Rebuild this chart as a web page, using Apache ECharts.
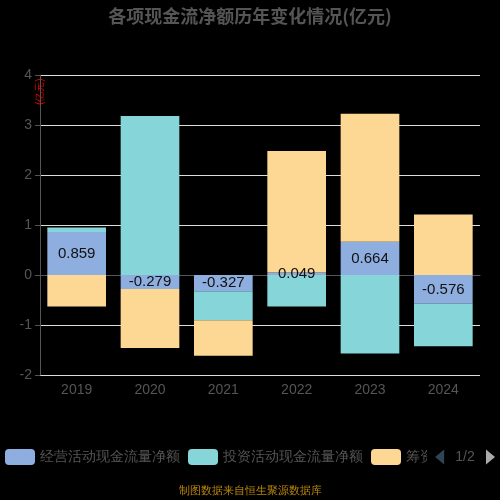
<!DOCTYPE html>
<html>
<head>
<meta charset="utf-8">
<script src="https://cdn.jsdelivr.net/npm/echarts@6/dist/echarts.min.js"></script>
<style>body{margin:0;background:#000}#c{width:500px;height:500px}</style>
</head>
<body>
<div id="c"></div>
<script>
// 年份
var years = ['2019', '2020', '2021', '2022', '2023', '2024'];
// 经营活动现金流量净额
var operating = [0.859, -0.279, -0.327, 0.049, 0.664, -0.576];
// 投资活动现金流量净额
var investing = [0.09, 3.18, -0.58, -0.63, -1.57, -0.85];
// 筹资活动现金流量净额
var financing = [-0.63, -1.18, -0.71, 2.43, 2.56, 1.21];

var chart = echarts.init(document.getElementById('c'));
var option = {
    backgroundColor: '#000',
    title: {
        text: '各项现金流净额历年变化情况(亿元)',
        left: 'center',
        top: 2,
        textStyle: { color: '#555', fontSize: 18, fontWeight: 'bold', fontFamily: 'Noto Sans CJK SC' }
    },
    color: ['#8eaee0', '#86d5d9', '#fdd895'],
    grid: { left: 40, right: 20, top: 75, bottom: 125 },
    legend: {
        type: 'scroll',
        bottom: 30,
        left: 0,
        itemWidth: 30,
        itemHeight: 16,
        textStyle: { color: '#555', fontSize: 14 },
        pageTextStyle: { color: '#555', fontSize: 14 },
        pageIconColor: '#aaa',
        pageIconInactiveColor: '#2f4554'
    },
    graphic: [{
        type: 'text',
        left: 'center',
        bottom: 4,
        style: { text: '制图数据来自恒生聚源数据库', fill: '#b8860b', fontSize: 11 }
    }],
    xAxis: {
        type: 'category',
        data: years,
        axisLine: { lineStyle: { color: '#555' } },
        axisTick: { lineStyle: { color: '#555' } },
        axisLabel: { color: '#555', fontSize: 14 }
    },
    yAxis: {
        type: 'value',
        min: -2,
        max: 4,
        interval: 1,
        name: '(亿元)',
        nameLocation: 'end',
        nameRotate: 90,
        nameGap: -30,
        nameTextStyle: { color: '#e00', fontSize: 10, padding: [0, 0, 20, 0] },
        axisLine: { show: true, lineStyle: { color: '#555' } },
        axisTick: { show: true, lineStyle: { color: '#555' } },
        axisLabel: { color: '#555', fontSize: 14 },
        splitLine: { lineStyle: { color: '#ddd' } }
    },
    series: [{
        name: '经营活动现金流量净额',
        type: 'bar',
        stack: 'total',
        barWidth: '80%',
        data: operating,
        label: { show: true, color: '#111', fontSize: 15 }
    }, {
        name: '投资活动现金流量净额',
        type: 'bar',
        stack: 'total',
        data: investing
    }, {
        name: '筹资活动现金流量净额',
        type: 'bar',
        stack: 'total',
        data: financing
    }]
};
chart.setOption(option);
</script>
</body>
</html>
